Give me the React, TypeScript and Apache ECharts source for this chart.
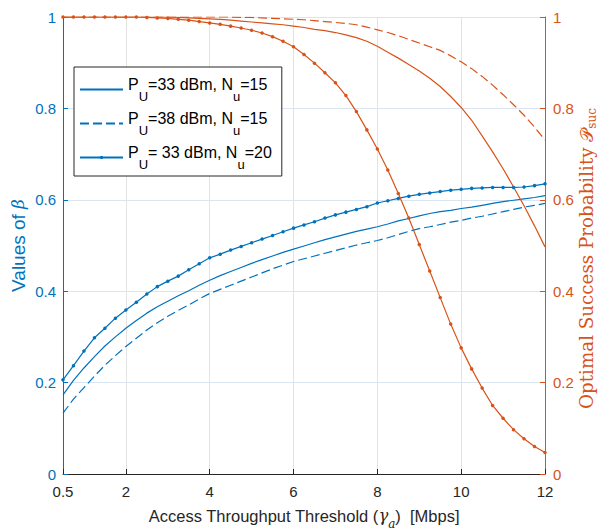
import React, { useEffect, useRef } from 'react';
import * as echarts from 'echarts';

// Access throughput threshold (Mbps)
const xs = [0.5, 0.75, 1, 1.25, 1.5, 1.75, 2, 2.25, 2.5, 2.75, 3, 3.25, 3.5, 3.75, 4, 4.25, 4.5, 4.75, 5, 5.25, 5.5, 5.75, 6, 6.25, 6.5, 6.75, 7, 7.25, 7.5, 7.75, 8, 8.25, 8.5, 8.75, 9, 9.25, 9.5, 9.75, 10, 10.25, 10.5, 10.75, 11, 11.25, 11.5, 11.75, 12];

// Values of beta (left axis)
const betaP33N15 = [0.173, 0.205, 0.232, 0.257, 0.280, 0.300, 0.319, 0.336, 0.352, 0.366, 0.378, 0.390, 0.401, 0.413, 0.424, 0.434, 0.443, 0.452, 0.461, 0.469, 0.477, 0.485, 0.492, 0.499, 0.506, 0.513, 0.519, 0.525, 0.531, 0.536, 0.541, 0.547, 0.554, 0.559, 0.565, 0.570, 0.574, 0.577, 0.581, 0.584, 0.588, 0.592, 0.596, 0.599, 0.602, 0.605, 0.609];
const betaP38N15 = [0.133, 0.164, 0.189, 0.214, 0.238, 0.259, 0.279, 0.297, 0.315, 0.331, 0.345, 0.358, 0.370, 0.383, 0.395, 0.404, 0.413, 0.422, 0.431, 0.440, 0.449, 0.457, 0.465, 0.471, 0.477, 0.483, 0.489, 0.495, 0.501, 0.506, 0.511, 0.517, 0.524, 0.531, 0.537, 0.541, 0.546, 0.551, 0.555, 0.560, 0.564, 0.569, 0.574, 0.579, 0.584, 0.588, 0.592];
const betaP33N20 = [0.206, 0.237, 0.269, 0.298, 0.319, 0.341, 0.359, 0.376, 0.394, 0.410, 0.422, 0.433, 0.447, 0.460, 0.473, 0.481, 0.490, 0.498, 0.506, 0.514, 0.522, 0.530, 0.538, 0.545, 0.552, 0.560, 0.567, 0.573, 0.579, 0.585, 0.593, 0.598, 0.603, 0.608, 0.612, 0.615, 0.618, 0.621, 0.623, 0.625, 0.626, 0.627, 0.627, 0.627, 0.628, 0.631, 0.635];

// Optimal success probability (right axis)
const psucP33N15 = [1, 1, 1, 1, 1, 1, 1, 1, 1, 1, 1, 0.999, 0.998, 0.997, 0.996, 0.995, 0.993, 0.991, 0.989, 0.987, 0.985, 0.983, 0.980, 0.977, 0.973, 0.970, 0.966, 0.961, 0.955, 0.947, 0.936, 0.923, 0.910, 0.896, 0.882, 0.866, 0.848, 0.826, 0.802, 0.774, 0.740, 0.705, 0.668, 0.628, 0.587, 0.543, 0.497];
const psucP38N15 = [1, 1, 1, 1, 1, 1, 1, 1, 1, 1, 1, 1, 1, 1, 1, 1, 1, 0.999, 0.999, 0.998, 0.997, 0.996, 0.995, 0.994, 0.992, 0.990, 0.988, 0.986, 0.983, 0.978, 0.972, 0.966, 0.959, 0.951, 0.943, 0.935, 0.927, 0.915, 0.902, 0.887, 0.870, 0.851, 0.830, 0.808, 0.785, 0.759, 0.731];
const psucP33N20 = [1, 1, 1, 1, 1, 1, 1, 1, 0.999, 0.998, 0.997, 0.995, 0.993, 0.990, 0.987, 0.984, 0.980, 0.976, 0.971, 0.965, 0.957, 0.947, 0.935, 0.918, 0.899, 0.878, 0.856, 0.828, 0.793, 0.753, 0.711, 0.665, 0.614, 0.560, 0.502, 0.444, 0.386, 0.328, 0.276, 0.230, 0.188, 0.150, 0.122, 0.097, 0.077, 0.060, 0.047];

const xTicks = [0.5, 2, 4, 6, 8, 10, 12];
const yTicks = [0, 0.2, 0.4, 0.6, 0.8, 1];

const legendNames = ['PU=33 dBm, Nu=15', 'PU=38 dBm, Nu=15', 'PU= 33 dBm, Nu=20'];
const legendRich: Record<string, string> = {
  'PU=33 dBm, Nu=15': '{m|P}{s|U}{m|=33 dBm, N}{s|u}{m|=15}',
  'PU=38 dBm, Nu=15': '{m|P}{s|U}{m|=38 dBm, N}{s|u}{m|=15}',
  'PU= 33 dBm, Nu=20': '{m|P}{s|U}{m|= 33 dBm, N}{s|u}{m|=20}',
};

const BLUE = '#0072BD';
const ORANGE = '#D95319';
const SANS = "'Liberation Sans', Arial, Helvetica, sans-serif";
const SERIF = "'DejaVu Serif', 'Liberation Serif', serif";

const pairs = (ys: number[]) => xs.map((x, i) => [x, ys[i]]);

export default function App() {
  const ref = useRef<HTMLDivElement>(null);
  useEffect(() => {
    if (!ref.current) return;
    const chart = echarts.init(ref.current, undefined, { renderer: 'svg' });
    const fmt = (v: number) => (v === 0 ? '0' : v === 1 ? '1' : v.toFixed(1));
    const mkLine = (name: string, ys: number[], color: string, yAxisIndex: number, type: 'solid' | 'dashed', dots: boolean) => ({
      name,
      type: 'line',
      yAxisIndex,
      data: pairs(ys),
      symbol: dots ? 'circle' : 'none',
      symbolSize: 3.5,
      showSymbol: dots,
      lineStyle: { color, width: 1.2, type: type === 'dashed' ? [9, 4] : 'solid' },
      itemStyle: { color },
      silent: true,
      emphasis: { disabled: true },
    });
    chart.setOption({
      animation: false,
      backgroundColor: '#ffffff',
      grid: { left: 63, right: 57, top: 17, bottom: 57, containLabel: false, outerBoundsMode: 'none' },
      legend: {
        show: true,
        data: [
          { name: legendNames[0], itemStyle: { opacity: 0 } },
          { name: legendNames[1], itemStyle: { opacity: 0 } },
          { name: legendNames[2] },
        ],
        orient: 'vertical',
        left: 74,
        top: 67,
        backgroundColor: '#ffffff',
        borderColor: '#262626',
        borderWidth: 1,
        borderRadius: 0,
        padding: [9, 10, 5, 5],
        itemGap: 7,
        itemWidth: 43,
        itemHeight: 4,
        selectedMode: false,
        formatter: (name: string) => legendRich[name] || name,
        textStyle: {
          color: '#000',
          rich: {
            m: { fontFamily: SANS, fontSize: 16, color: '#000', verticalAlign: 'top' },
            s: { fontFamily: SANS, fontSize: 13, color: '#000', verticalAlign: 'top', padding: [14, 0, 0, 0] },
          },
        },
      },
      xAxis: {
        type: 'value',
        min: 0.5,
        max: 12,
        name: '{m|Access Throughput Threshold (}{g|γ}{s|a}{m|)  [Mbps]}',
        nameLocation: 'middle',
        nameGap: 33,
        nameMoveOverlap: false,
        nameTextStyle: {
          rich: {
            m: { fontFamily: SANS, fontSize: 16.5, color: '#262626', verticalAlign: 'top' },
            g: { fontFamily: SERIF, fontStyle: 'italic', fontSize: 16, color: '#262626', verticalAlign: 'top' },
            s: { fontFamily: SERIF, fontStyle: 'italic', fontSize: 12, color: '#262626', verticalAlign: 'top', padding: [11, 0, 0, 0] },
          },
        },
        axisLine: { show: true, onZero: false, lineStyle: { color: '#262626', width: 1 } },
        axisTick: { show: true, inside: true, length: 5, customValues: xTicks, lineStyle: { color: '#262626' } },
        axisLabel: { customValues: xTicks, color: '#262626', fontFamily: SANS, fontSize: 15, margin: 10, formatter: (v: number) => String(v) },
        splitLine: { show: true, lineStyle: { color: '#e3e3e3', width: 1 } },
      },
      yAxis: [
        {
          type: 'value',
          position: 'left',
          min: 0,
          max: 1,
          interval: 0.2,
          name: '{m|Values of }{b|β}',
          nameLocation: 'middle',
          nameRotate: 90,
          nameGap: 35,
          nameMoveOverlap: false,
          nameTextStyle: {
            rich: {
              m: { fontFamily: SANS, fontSize: 19, color: BLUE, lineHeight: 20 },
              b: { fontFamily: SERIF, fontStyle: 'italic', fontSize: 17, color: BLUE, lineHeight: 20 },
            },
          },
          axisLine: { show: true, onZero: false, lineStyle: { color: BLUE, width: 1 } },
          axisTick: { show: true, inside: true, length: 5, lineStyle: { color: BLUE } },
          axisLabel: { color: BLUE, fontFamily: SANS, fontSize: 15, margin: 7, formatter: fmt },
          splitLine: { show: true, lineStyle: { color: '#d9e6f2', width: 1 } },
        },
        {
          type: 'value',
          position: 'right',
          min: 0,
          max: 1,
          interval: 0.2,
          name: '{m|Optimal Success Probability }{p|𝒫}{s|suc}',
          nameLocation: 'middle',
          nameRotate: 90,
          nameGap: 32,
          nameMoveOverlap: false,
          nameTextStyle: {
            padding: [0, 26, 0, 0],
            rich: {
              m: { fontFamily: SERIF, fontSize: 18.3, color: ORANGE, verticalAlign: 'top' },
              p: { fontFamily: SERIF, fontSize: 18.3, color: ORANGE, verticalAlign: 'top' },
              s: { fontFamily: SERIF, fontSize: 12, color: ORANGE, verticalAlign: 'top', padding: [9, 0, 0, 0] },
            },
          },
          axisLine: { show: true, onZero: false, lineStyle: { color: ORANGE, width: 1 } },
          axisTick: { show: true, inside: true, length: 5, lineStyle: { color: ORANGE } },
          axisLabel: { color: ORANGE, fontFamily: SANS, fontSize: 15, margin: 8, formatter: fmt, customValues: yTicks },
          splitLine: { show: false },
        },
      ],
      series: [
        mkLine(legendNames[0], betaP33N15, BLUE, 0, 'solid', false),
        mkLine(legendNames[1], betaP38N15, BLUE, 0, 'dashed', false),
        mkLine(legendNames[2], betaP33N20, BLUE, 0, 'solid', true),
        mkLine('Psuc PU=33 dBm, Nu=15', psucP33N15, ORANGE, 1, 'solid', false),
        mkLine('Psuc PU=38 dBm, Nu=15', psucP38N15, ORANGE, 1, 'dashed', false),
        mkLine('Psuc PU=33 dBm, Nu=20', psucP33N20, ORANGE, 1, 'solid', true),
      ],
    });
    return () => chart.dispose();
  }, []);
  return (
    <div
      ref={ref}
      style={{ position: 'fixed', left: 0, top: 0, width: 602, height: 531, background: '#fff' }}
    />
  );
}
